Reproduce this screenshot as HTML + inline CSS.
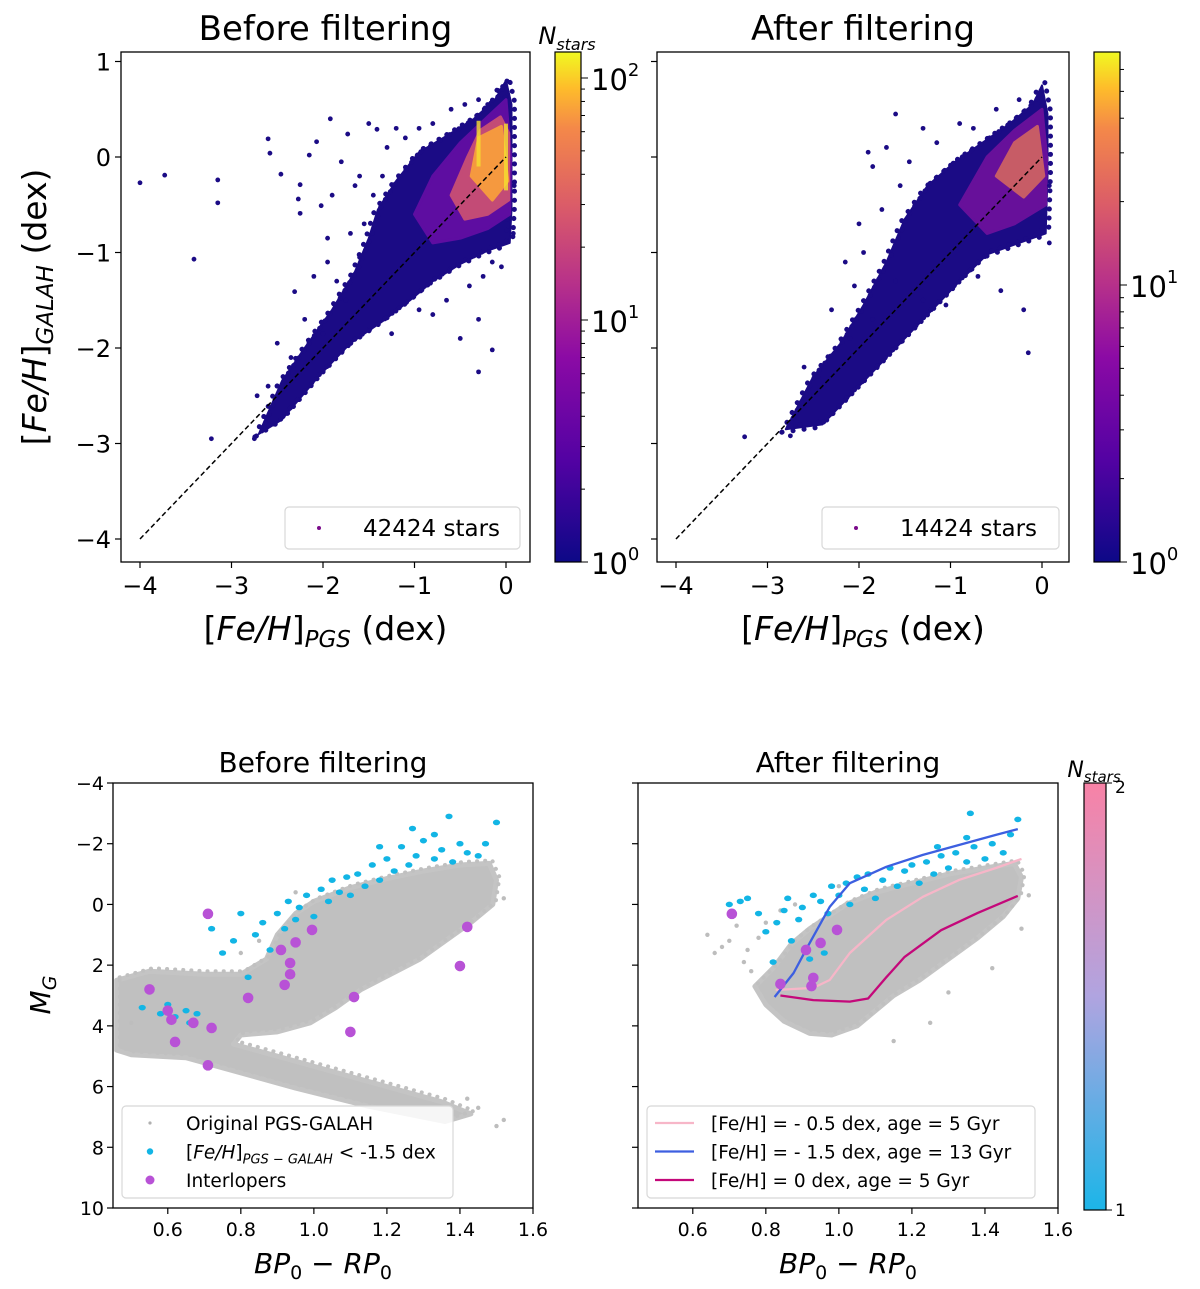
<!DOCTYPE html>
<html><head><meta charset="utf-8"><style>
html,body{margin:0;padding:0;background:#fff}
svg{display:block}
text{font-family:"DejaVu Sans","Liberation Sans",sans-serif;fill:#000}
</style></head><body>
<svg id="fig" width="1200" height="1289" viewBox="0 0 1200 1289" xmlns="http://www.w3.org/2000/svg">
<defs>
<linearGradient id="plasma" x1="0" y1="1" x2="0" y2="0">
<stop offset="0" stop-color="#0d0887"/><stop offset="0.2" stop-color="#5302a3"/><stop offset="0.4" stop-color="#8b0aa5"/><stop offset="0.55" stop-color="#b83289"/><stop offset="0.7" stop-color="#db5c68"/><stop offset="0.85" stop-color="#f48849"/><stop offset="0.93" stop-color="#febd2a"/><stop offset="1" stop-color="#f0f921"/>
</linearGradient>
<linearGradient id="coolpink" x1="0" y1="1" x2="0" y2="0">
<stop offset="0" stop-color="#1cb5e8"/><stop offset="0.5" stop-color="#b0a4e0"/><stop offset="1" stop-color="#f882a6"/>
</linearGradient>
</defs>
</svg>
<script>
// ---------- DATA ----------
const cloudBefore = [[-2.7,-2.9],[-2.45,-2.35],[-2.2,-2.0],[-1.9,-1.6],[-1.65,-1.2],[-1.5,-0.85],[-1.4,-0.55],[-1.2,-0.25],[-0.95,0.05],[-0.65,0.22],[-0.35,0.4],[-0.12,0.6],[0.0,0.8],[0.06,0.55],[0.06,0.0],[0.06,-0.55],[0.04,-0.9],[-0.2,-0.98],[-0.5,-1.12],[-0.8,-1.3],[-1.05,-1.5],[-1.35,-1.72],[-1.7,-1.95],[-2.05,-2.3],[-2.45,-2.75]];
const denseBefore1 = [[-1.0,-0.6],[-0.8,-0.2],[-0.5,0.15],[-0.2,0.42],[0.0,0.6],[0.05,0.0],[0.04,-0.6],[-0.2,-0.75],[-0.5,-0.85],[-0.8,-0.9]];
const denseBefore2 = [[-0.6,-0.4],[-0.42,0.0],[-0.28,0.28],[-0.06,0.42],[0.03,0.25],[0.03,-0.45],[-0.2,-0.6],[-0.45,-0.65]];
const denseBefore3 = [[-0.38,-0.2],[-0.3,0.2],[-0.05,0.32],[0.02,-0.25],[-0.15,-0.45]];
const outBefore = [[-4.0,-0.27],[-3.73,-0.19],[-3.15,-0.24],[-3.15,-0.48],[-3.41,-1.07],[-2.6,0.19],[-2.58,0.04],[-2.46,-0.18],[-1.92,0.4],[-1.73,0.24],[-2.07,0.16],[-2.15,0.02],[-2.25,-0.29],[-2.27,-0.44],[-2.25,-0.59],[-2.02,-0.51],[-1.41,0.29],[-2.31,-1.41],[-3.22,-2.95],[-2.75,-2.95],[-2.72,-2.5],[-2.6,-2.4],[-0.15,-2.02],[-0.3,-2.25],[-0.5,-1.9],[-0.3,-1.7],[-0.8,-1.65],[-1.65,-0.3],[-1.8,-0.05],[-1.5,0.35],[-1.2,0.3],[-0.8,0.35],[-0.6,0.5],[-0.3,0.6],[-0.2,0.55],[-1.95,-0.85],[-2.1,-1.25],[-1.85,-1.3],[-2.5,-1.95],[-2.35,-2.1],[-1.6,-1.05],[-1.35,-0.2],[0.08,-0.8],[-0.05,-1.15],[-0.25,-1.25],[-0.65,-1.5],[-2.0,-1.85],[-1.55,-1.55],[-1.55,-0.7],[-1.7,-0.8],[-1.45,-0.4],[-1.3,0.1],[-1.1,0.2],[-0.95,0.3],[-0.45,0.55],[-0.1,0.7],[-2.2,-1.7],[-1.95,-1.1],[-1.75,-1.5],[-1.25,-1.85],[-0.95,-1.6],[-0.4,-1.35],[-0.15,-1.1],[0.09,-0.3],[-2.55,-2.6],[-1.6,-0.2],[-1.9,-0.4]];
const cloudAfter = [[-2.8,-2.85],[-2.5,-2.3],[-2.2,-1.95],[-1.95,-1.55],[-1.7,-1.1],[-1.5,-0.65],[-1.25,-0.3],[-0.95,-0.05],[-0.65,0.15],[-0.35,0.35],[-0.1,0.55],[0.0,0.75],[0.06,0.45],[0.06,-0.2],[0.04,-0.8],[-0.25,-0.9],[-0.6,-1.02],[-0.9,-1.3],[-1.2,-1.6],[-1.55,-1.95],[-1.95,-2.35],[-2.4,-2.8]];
const denseAfter1 = [[-0.9,-0.5],[-0.6,0.0],[-0.3,0.28],[0.0,0.5],[0.05,0.0],[0.04,-0.5],[-0.3,-0.7],[-0.6,-0.8]];
const denseAfter2 = [[-0.5,-0.2],[-0.3,0.15],[-0.05,0.32],[0.02,-0.2],[-0.2,-0.42]];
const outAfter = [[-3.25,-2.93],[-2.75,-2.92],[-2.6,-2.6],[-2.45,-2.3],[-1.9,0.05],[-1.6,0.45],[-1.7,0.1],[-1.85,-0.1],[-1.3,0.3],[-0.9,0.35],[-0.5,0.5],[-2.0,-0.7],[-2.15,-1.1],[-1.95,-1.0],[-1.75,-0.55],[-0.15,-2.05],[-0.2,-1.6],[-0.45,-1.4],[0.08,-0.9],[-1.3,-1.5],[-1.05,-1.55],[-2.3,-1.6],[-2.05,-1.35],[-1.55,-0.3],[-1.45,-0.05],[-1.15,0.15],[-0.75,0.3],[-0.25,0.6],[-2.1,-1.9],[-1.85,-1.7],[-1.6,-1.3],[-0.7,-1.25],[0.08,-0.3],[-2.6,-2.2]];
const tickX = [-4,-3,-2,-1,0];
const tickY = [1,0,-1,-2,-3,-4];

const grayBefore = [[0.46,2.5],[0.55,2.2],[0.7,2.3],[0.8,2.3],[0.87,1.8],[0.9,1.0],[0.95,0.3],[1.0,-0.1],[1.1,-0.55],[1.2,-0.85],[1.3,-1.1],[1.4,-1.3],[1.48,-1.35],[1.5,-0.8],[1.49,0.0],[1.43,0.6],[1.36,1.2],[1.29,1.8],[1.21,2.3],[1.13,2.8],[1.06,3.4],[0.99,3.9],[0.9,4.2],[0.8,4.3],[0.78,4.6],[0.9,5.0],[1.05,5.5],[1.2,6.0],[1.35,6.5],[1.43,6.9],[1.36,7.15],[1.15,6.65],[0.95,6.05],[0.8,5.55],[0.65,5.05],[0.5,4.95],[0.46,4.8]];
const grayAfter = [[0.77,2.7],[0.82,2.1],[0.87,1.3],[0.92,0.8],[0.97,0.4],[1.02,0.0],[1.1,-0.4],[1.2,-0.7],[1.3,-1.0],[1.4,-1.2],[1.48,-1.35],[1.5,-0.9],[1.49,-0.2],[1.45,0.4],[1.38,1.1],[1.3,1.8],[1.22,2.5],[1.15,3.0],[1.1,3.5],[1.05,4.0],[0.98,4.3],[0.92,4.25],[0.85,3.85],[0.8,3.3]];
const grayOutAfter = [[0.64,1.0],[0.68,1.4],[0.72,0.7],[0.74,1.9],[0.66,1.6],[0.78,1.1],[0.8,0.6],[0.76,2.2],[1.3,2.9],[1.42,2.1],[1.52,-0.3],[1.5,0.8],[1.15,4.5],[1.25,3.9],[0.7,1.2],[0.75,1.5],[0.84,0.2],[0.88,0.0],[1.0,-0.6]];
const grayOutBefore = [[1.5,7.3],[1.52,7.1],[1.45,6.7],[1.42,6.4],[0.5,3.9],[1.52,-0.2],[0.85,1.2],[0.8,1.6],[0.95,-0.4]];
const cyanBefore = [[0.53,3.4],[0.58,3.6],[0.6,3.3],[0.62,3.7],[0.65,3.5],[0.66,3.9],[0.68,3.6],[0.72,0.8],[0.75,1.6],[0.78,1.2],[0.8,0.3],[0.82,2.4],[0.84,1.0],[0.86,0.6],[0.88,1.5],[0.9,0.3],[0.92,0.8],[0.93,-0.1],[0.95,0.5],[0.96,0.1],[0.98,-0.3],[1.0,0.4],[1.02,-0.5],[1.04,-0.1],[1.05,-0.8],[1.07,-0.4],[1.09,-0.9],[1.1,-0.3],[1.12,-1.0],[1.14,-0.6],[1.16,-1.3],[1.18,-0.8],[1.2,-1.5],[1.22,-1.1],[1.24,-1.9],[1.26,-1.3],[1.28,-1.6],[1.3,-2.1],[1.33,-1.5],[1.35,-1.8],[1.38,-1.4],[1.4,-2.0],[1.42,-1.7],[1.45,-1.6],[1.47,-2.0],[1.5,-2.7],[1.37,-2.9],[1.33,-2.3],[1.18,-1.9],[1.27,-2.5]];
const cyanAfter = [[0.7,0.0],[0.73,-0.1],[0.75,-0.2],[0.78,0.3],[0.8,0.9],[0.83,0.6],[0.85,0.2],[0.87,1.2],[0.89,0.5],[0.9,0.1],[0.92,1.8],[0.93,-0.3],[0.95,-0.1],[0.97,0.3],[0.98,-0.6],[1.0,-0.3],[1.02,-0.7],[1.03,0.0],[1.05,-0.9],[1.07,-0.5],[1.08,-1.0],[1.1,-0.2],[1.12,-0.8],[1.14,-1.2],[1.16,-0.6],[1.18,-1.1],[1.2,-1.3],[1.22,-0.7],[1.24,-1.4],[1.26,-1.0],[1.28,-1.6],[1.3,-1.2],[1.32,-1.7],[1.35,-1.4],[1.37,-1.9],[1.4,-1.5],[1.42,-2.0],[1.45,-1.7],[1.47,-2.3],[1.49,-2.8],[1.35,-2.2],[1.27,-1.9],[1.36,-3.0],[0.86,-0.2],[0.82,1.9],[0.96,1.6]];
const purpleBefore = [[0.71,0.31],[0.91,1.5],[0.95,1.25],[0.995,0.84],[0.935,1.93],[0.935,2.3],[0.92,2.65],[0.82,3.08],[1.11,3.05],[1.1,4.2],[0.55,2.8],[0.6,3.5],[0.61,3.8],[0.67,3.9],[0.72,4.07],[0.62,4.53],[0.71,5.3],[1.42,0.74],[1.4,2.03]];
const purpleAfter = [[0.707,0.31],[0.91,1.5],[0.95,1.27],[0.995,0.84],[0.93,2.42],[0.925,2.69],[0.84,2.62]];
const isoPinkX = [0.827,0.93,0.975,1.03,1.13,1.23,1.33,1.43,1.50];
const isoPinkY = [2.82,2.75,2.49,1.6,0.51,-0.25,-0.81,-1.2,-1.5];
const isoBlueX = [0.824,0.876,0.914,0.975,1.03,1.13,1.23,1.33,1.43,1.49];
const isoBlueY = [3.05,2.26,1.40,0.08,-0.7,-1.24,-1.63,-1.96,-2.29,-2.48];
const isoMagX = [0.84,0.93,1.03,1.08,1.13,1.18,1.28,1.38,1.49];
const isoMagY = [3.0,3.15,3.2,3.1,2.4,1.73,0.85,0.28,-0.28];
const cmdTickX = [0.6,0.8,1.0,1.2,1.4,1.6];
const cmdTickY = [-4,-2,0,2,4,6,8,10];

// ---------- HELPERS ----------
const svg = document.getElementById('fig');
const NS = 'http://www.w3.org/2000/svg';
function mk(tag, attrs, parent){const e=document.createElementNS(NS,tag);for(const k in attrs)e.setAttribute(k,attrs[k]);(parent||svg).appendChild(e);return e;}
function lin(d0,d1,r0,r1){return v=>r0+(v-d0)/(d1-d0)*(r1-r0);}
function txt(x,y,s,size,anchor,parent,extra){const t=mk('text',Object.assign({x:x,y:y,'font-size':size,'text-anchor':anchor||'middle'},extra||{}),parent);t.innerHTML=s;return t;}
function poly(pts,sx,sy){return pts.map(p=>sx(p[0]).toFixed(1)+','+sy(p[1]).toFixed(1)).join(' ');}
function minus(v){return String(v).replace('-','\u2212');}

// ---------- TOP PANELS ----------
function topPanel(cfg){
  const g=mk('g',{});
  
  
  const sx=lin(-4,0,cfg.x4,cfg.x0), sy=lin(0,1,157,61.5);
  const L=cfg.left,R=cfg.right,T=52,B=562;
  const clip=mk('clipPath',{id:cfg.name+'-clip'},g);mk('rect',{x:L,y:T,width:R-L,height:B-T},clip);
  const pg=mk('g',{'clip-path':'url(#'+cfg.name+'-clip)'},g);
  const c=mk('polygon',{points:poly(cfg.cloud,sx,sy),fill:'#1b0b85',stroke:'#1b0b85','stroke-width':2,'stroke-linejoin':'round'},pg);
  
  
  mk('polygon',{points:poly(cfg.cloud,sx,sy),fill:'none',stroke:'#1b0b85','stroke-width':5,'stroke-dasharray':'0.1 9','stroke-linecap':'round',transform:'translate(3,-3)'},pg);
  mk('polygon',{points:poly(cfg.cloud,sx,sy),fill:'none',stroke:'#1b0b85','stroke-width':5,'stroke-dasharray':'0.1 11','stroke-linecap':'round',transform:'translate(-4,3)'},pg);
  cfg.dense.forEach((d,i)=>{
    const p=mk('polygon',{points:poly(d[0],sx,sy),fill:d[1],opacity:d[2],stroke:d[1],'stroke-width':3,'stroke-linejoin':'round'},pg);
    
    
  });
  if(cfg.streaks){cfg.streaks.forEach(s=>{mk('line',{x1:sx(s[0]),y1:sy(s[1]),x2:sx(s[0]),y2:sy(s[2]),stroke:'#f5e030','stroke-width':4,opacity:0.8},pg);});}
  cfg.out.forEach(p=>{
    const d=mk('circle',{cx:sx(p[0]),cy:sy(p[1]),r:2.4,fill:'#1b0b85'},pg);
    
    
  });
  const dl=mk('line',{x1:sx(-4),y1:sy(-4),x2:sx(0),y2:sy(0),stroke:'#000','stroke-width':1.5,'stroke-dasharray':'5,3'},pg);
  
  
  const lg=mk('g',{},g);
  
  
  mk('rect',{x:cfg.legX,y:507,width:R-10-cfg.legX,height:42,rx:4,fill:'#fff',stroke:'#d8d8d8','stroke-width':1.2},lg);
  mk('circle',{cx:cfg.legX+34,cy:528,r:2,fill:'#7a0a8a'},lg);
  txt(cfg.legX+78,536,cfg.legText,23,'start',lg);
  mk('rect',{x:L,y:T,width:R-L,height:B-T,fill:'none',stroke:'#000','stroke-width':1.3},g);
  tickX.forEach(v=>{const x=sx(v);mk('line',{x1:x,y1:B,x2:x,y2:B+6,stroke:'#000','stroke-width':1.2},g);txt(x,B+32,minus(v),24,'middle',g);});
  tickY.forEach(v=>{const y=sy(v);mk('line',{x1:L,y1:y,x2:L-6,y2:y,stroke:'#000','stroke-width':1.2},g);if(cfg.ylabels)txt(L-10,y+9,minus(v),24,'end',g);});
  const xl=txt((L+R)/2,640,'[<tspan font-style="italic">Fe/H</tspan>]<tspan font-style="italic" font-size="23" dy="7">PGS</tspan><tspan dy="-7"> (dex)</tspan>',33,'middle',g);
  
  
  const tt=txt((L+R)/2,40,cfg.title,34,'middle',g);
  
  
  const cb=mk('g',{},g);
  
  
  mk('rect',{x:cfg.cbx,y:T,width:26,height:B-T,fill:'url(#plasma)',stroke:'#000','stroke-width':1.2},cb);
  const cy=lin(0,1,B,B-cfg.dec);
  for(let e=0;e<=2;e++){for(let m=1;m<10;m++){const y=cy(e+Math.log10(m));if(y<T-0.5)break;mk('line',{x1:cfg.cbx+26,y1:y,x2:cfg.cbx+26+(m===1?7:4),y2:y,stroke:'#000','stroke-width':1},cb);if(m===1)txt(cfg.cbx+36,y+12,'10<tspan font-size="18" dy="-14">'+e+'</tspan>',29,'start',cb);}}
  if(cfg.nlabel){txt(cfg.cbx+12,44,'<tspan font-style="italic">N</tspan><tspan font-style="italic" font-size="16" dy="6">stars</tspan>',24,'middle',g);}
}
topPanel({name:'panel-before-metallicity',x4:140,x0:506,left:121,right:530,cbx:555,dec:242,cloud:cloudBefore,
  dense:[[denseBefore1,'#6a0ea6',0.85],[denseBefore2,'#d5566f',0.85],[denseBefore3,'#fba23a',0.9]],streaks:[[-0.3,-0.1,0.38],[0.0,-0.35,0.35]],
  out:outBefore,legX:285,legText:'42424 stars',title:'Before filtering',ylabels:true,nlabel:true});
topPanel({name:'panel-after-metallicity',x4:676,x0:1042,left:657,right:1069,cbx:1094,dec:277,cloud:cloudAfter,
  dense:[[denseAfter1,'#7a12a0',0.8],[denseAfter2,'#e0705a',0.8]],streaks:null,
  out:outAfter,legX:822,legText:'14424 stars',title:'After filtering',ylabels:false,nlabel:false});
const yl=txt(0,0,'[<tspan font-style="italic">Fe/H</tspan>]<tspan font-style="italic" font-size="23" dy="7">GALAH</tspan><tspan dy="-7"> (dex)</tspan>',33,'middle',svg,{transform:'translate(46,307) rotate(-90)'});



// ---------- BOTTOM PANELS ----------
function cmdPanel(cfg){
  const g=mk('g',{});
  
  
  const L=cfg.left,R=cfg.left+420,T=783,B=1208;
  const sx=lin(0.45,1.6,L,R), sy=lin(-4,10,T,B);
  const clip=mk('clipPath',{id:cfg.name+'-clip'},g);mk('rect',{x:L,y:T,width:R-L,height:B-T},clip);
  const pg=mk('g',{'clip-path':'url(#'+cfg.name+'-clip)'},g);
  const gc=mk('polygon',{points:poly(cfg.gray,sx,sy),fill:'#c0c0c0',stroke:'#c4c4c4','stroke-width':5,'stroke-linejoin':'round'},pg);
  
  
  mk('polygon',{points:poly(cfg.gray,sx,sy),fill:'none',stroke:'#c0c0c0','stroke-width':4,'stroke-dasharray':'0.1 8','stroke-linecap':'round',transform:'translate(3,-3)'},pg);
  cfg.grayOut.forEach(p=>{mk('circle',{cx:sx(p[0]),cy:sy(p[1]),r:2.2,fill:'#bdbdbd'},pg);});
  cfg.cyan.forEach(p=>{
    const d=mk('ellipse',{cx:sx(p[0]),cy:sy(p[1]),rx:3.6,ry:2.8,fill:'#12b5e5'},pg);
    
    
  });
  if(cfg.iso){cfg.iso.forEach(s=>{
    const pts=s.x.map((v,i)=>sx(v).toFixed(1)+','+sy(s.y[i]).toFixed(1)).join(' ');
    const l=mk('polyline',{points:pts,fill:'none',stroke:s.c,'stroke-width':2.3,'stroke-linejoin':'round'},pg);
    
    
  });}
  cfg.purple.forEach(p=>{
    const d=mk('circle',{cx:sx(p[0]),cy:sy(p[1]),r:5.3,fill:'#b852d6'},pg);
    
    
  });
  const lg=mk('g',{},g);
  
  
  mk('rect',{x:L+9,y:1106,width:cfg.legW,height:92,rx:4,fill:'#fff','fill-opacity':0.85,stroke:'#d8d8d8','stroke-width':1.2},lg);
  cfg.legend.forEach((e,i)=>{
    const y=1123+i*28.5;
    if(e.t==='line')mk('line',{x1:L+17,y1:y,x2:L+56,y2:y,stroke:e.c,'stroke-width':2.3},lg);
    else mk('circle',{cx:L+37,cy:y,r:e.r,fill:e.c},lg);
    txt(L+73,y+7,e.s,18.5,'start',lg);
  });
  mk('rect',{x:L,y:T,width:R-L,height:B-T,fill:'none',stroke:'#000','stroke-width':1.3},g);
  cmdTickX.forEach(v=>{const x=sx(v);mk('line',{x1:x,y1:B,x2:x,y2:B+6,stroke:'#000','stroke-width':1.2},g);txt(x,B+28,v.toFixed(1),19,'middle',g);});
  cmdTickY.forEach(v=>{const y=sy(v);mk('line',{x1:L,y1:y,x2:L-6,y2:y,stroke:'#000','stroke-width':1.2},g);if(cfg.ylabels)txt(L-9,y+7,minus(v),19,'end',g);});
  const xl=txt((L+R)/2,1273,'<tspan font-style="italic">BP</tspan><tspan font-size="19" dy="6">0</tspan><tspan dy="-6"> \u2212 </tspan><tspan font-style="italic">RP</tspan><tspan font-size="19" dy="6">0</tspan>',28,'middle',g);
  
  
  const tt=txt((L+R)/2,772,cfg.title,28,'middle',g);
  
  
}
cmdPanel({name:'panel-before-cmd',left:113,gray:grayBefore,grayOut:grayOutBefore,cyan:cyanBefore,purple:purpleBefore,iso:null,ylabels:true,title:'Before filtering',legW:331,
  legend:[{t:'dot',c:'#b0b0b0',r:1.6,s:'Original PGS-GALAH'},{t:'dot',c:'#12b5e5',r:3.2,s:'[<tspan font-style="italic">Fe/H</tspan>]<tspan font-style="italic" font-size="13" dy="5">PGS \u2212 GALAH</tspan><tspan dy="-5"> &lt; -1.5 dex</tspan>'},{t:'dot',c:'#b852d6',r:4.5,s:'Interlopers'}]});
cmdPanel({name:'panel-after-cmd',left:638,gray:grayAfter,grayOut:grayOutAfter,cyan:cyanAfter,purple:purpleAfter,ylabels:false,title:'After filtering',legW:388,
  iso:[{x:isoPinkX,y:isoPinkY,c:'#f7b6c8',n:'isochrone-feh-m05'},{x:isoBlueX,y:isoBlueY,c:'#3d5fe0',n:'isochrone-feh-m15'},{x:isoMagX,y:isoMagY,c:'#c4087a',n:'isochrone-feh-0'}],
  legend:[{t:'line',c:'#f7b6c8',s:'[Fe/H] = - 0.5 dex, age = 5 Gyr'},{t:'line',c:'#3d5fe0',s:'[Fe/H] = - 1.5 dex, age = 13 Gyr'},{t:'line',c:'#c4087a',s:'[Fe/H] =  0 dex, age = 5 Gyr'}]});
const ml=txt(0,0,'<tspan font-style="italic">M</tspan><tspan font-style="italic" font-size="19" dy="6">G</tspan>',28,'middle',svg,{transform:'translate(50,995) rotate(-90)'});


const cb2=mk('g',{});


mk('rect',{x:1084,y:783,width:22,height:427,fill:'url(#coolpink)',stroke:'#000','stroke-width':1.2},cb2);
mk('line',{x1:1106,y1:783,x2:1112,y2:783,stroke:'#000','stroke-width':1},cb2);
mk('line',{x1:1106,y1:1210,x2:1112,y2:1210,stroke:'#000','stroke-width':1},cb2);
txt(1115,793,'2',17,'start',cb2);
txt(1115,1216,'1',17,'start',cb2);
txt(1094,777,'<tspan font-style="italic">N</tspan><tspan font-style="italic" font-size="15" dy="5">stars</tspan>',22,'middle',cb2);
</script>
</body></html>
